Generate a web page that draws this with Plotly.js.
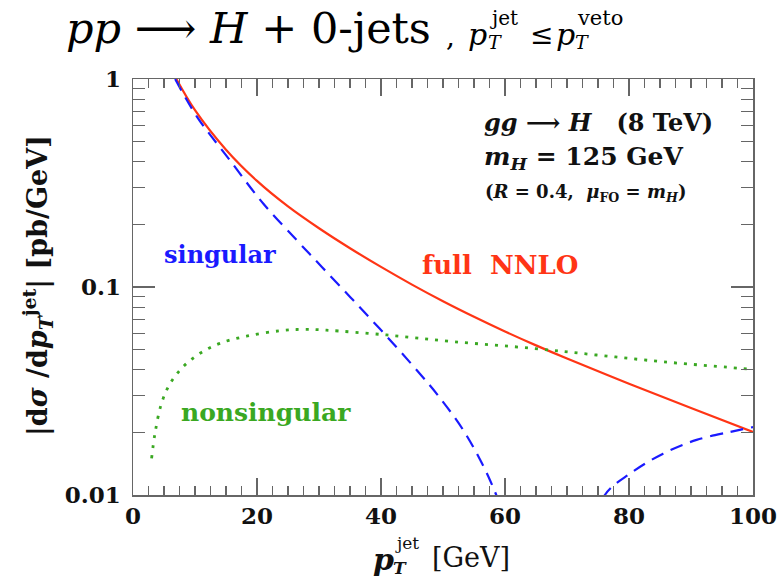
<!DOCTYPE html>
<html>
<head>
<meta charset="utf-8">
<script src="https://cdn.plot.ly/plotly-3.0.1.min.js"></script>
<style>html,body{margin:0;padding:0;background:#fff;}#chart{width:784px;height:583px;}</style>
</head>
<body>
<div id="chart"></div>
<script>
// Full NNLO (red solid)
var fullX = [7, 10, 15, 20, 25, 30, 35, 40, 45, 50, 55, 60, 65, 70, 80, 90, 100];
var fullY = [1.0, 0.708, 0.457, 0.3236, 0.244, 0.1916, 0.1536, 0.1249, 0.1027, 0.0854, 0.0719, 0.0611, 0.0524, 0.0453, 0.0343, 0.0262, 0.0201];

// Singular (blue dashed): positive branch, then |negative| branch
var singX1 = [6.8, 10.3, 15.6, 21.0, 26.4, 30.5, 35.5, 40.9, 46.3, 49.2, 53.5, 57.6, 60, 63, 66];
var singY1 = [1.0, 0.66, 0.408, 0.252, 0.168, 0.1245, 0.0865, 0.058, 0.0382, 0.0301, 0.020, 0.01175, 0.0076, 0.0037, 0.001];
var singX2 = [70, 73, 76.1, 80.2, 85.5, 90.9, 96.3, 100];
var singY2 = [0.002, 0.0055, 0.0100, 0.0127, 0.0158, 0.0184, 0.0201, 0.0212];

// Nonsingular (green dotted)
var nonsX = [3.0, 3.55, 4.6, 6.0, 8.1, 10.8, 14.0, 18.3, 23.7, 27.5, 31.2, 40.9, 51.7, 64.5, 74.8, 85.5, 100];
var nonsY = [0.015, 0.0198, 0.0276, 0.0344, 0.0414, 0.048, 0.0536, 0.058, 0.0616, 0.0626, 0.062, 0.0588, 0.0546, 0.0507, 0.0471, 0.0437, 0.0402];

var xTickVals = [0, 20, 40, 60, 80, 100];
var yTickVals = [0.01, 0.1, 1];
var yTickText = ['0.01', '0.1', '1'];

var RED = '#ff3515', BLUE = '#1a1aff', GREEN = '#3aa822';
var SERIF = 'DejaVu Serif, Liberation Serif, serif';
var NB = '\u00A0';

var yMinor = [];
[0.01, 0.1].forEach(function (d) { for (var k = 2; k <= 9; k++) yMinor.push(+(k * d).toPrecision(2)); });
var xMinor = [];
for (var v = 0; v <= 100; v += 2.5) if (v % 20 !== 0) xMinor.push(v);

var traces = [
  {x: fullX, y: fullY, mode: 'lines', line: {color: RED, width: 2.2, shape: 'spline', smoothing: 1}, hoverinfo: 'skip'},
  {x: singX1, y: singY1, mode: 'lines', line: {color: BLUE, width: 2.2, dash: '13px,8px', shape: 'spline', smoothing: 1}, hoverinfo: 'skip'},
  {x: singX2, y: singY2, mode: 'lines', line: {color: BLUE, width: 2.2, dash: '13px,8px', shape: 'spline', smoothing: 1}, hoverinfo: 'skip'},
  {x: nonsX, y: nonsY, mode: 'lines', line: {color: GREEN, width: 2.8, dash: '3px,7px', shape: 'spline', smoothing: 1}, hoverinfo: 'skip'}
];

var L = 133, R = 31, T = 79, B = 88, W = 784, H = 583;
function px(p) { return (p - L) / (W - L - R); }
function py(p) { return (H - B - p) / (H - T - B); }
function pa(x, y, text, size, opt) {
  var a = {xref: 'paper', yref: 'paper', x: px(x), y: py(y), xanchor: 'left', yanchor: 'middle', showarrow: false,
    text: text, font: {family: SERIF, size: size, color: '#000'}};
  return Object.assign(a, opt || {});
}

var annotations = [
  pa(64, 28, '<i>pp</i>' + NB + '⟶' + NB + '<i>H</i>' + NB + '+' + NB + '0-jets', 43),
  pa(444, 36, ',', 28),
  pa(466, 34, '<i>p</i>', 30),
  pa(486, 42, '<i>T</i>', 19),
  pa(488, 18, 'jet', 20),
  pa(528, 34, '≤', 28),
  pa(554, 34, '<i>p</i>', 30),
  pa(573, 42, '<i>T</i>', 19),
  pa(575, 18, 'veto', 21),
  {x: 14, y: -0.846, xanchor: 'center', yanchor: 'middle', showarrow: false, text: '<b>singular</b>', font: {family: SERIF, size: 24, color: BLUE}},
  {x: 21.5, y: -1.601, xanchor: 'center', yanchor: 'middle', showarrow: false, text: '<b>nonsingular</b>', font: {family: SERIF, size: 25, color: GREEN}},
  {x: 59.2, y: -0.894, xanchor: 'center', yanchor: 'middle', showarrow: false, text: '<b>full' + NB + NB + 'NNLO</b>', font: {family: SERIF, size: 26, color: RED}},
  {x: 56.3, y: -0.207, xanchor: 'left', yanchor: 'middle', showarrow: false, text: '<b><i>gg</i>' + NB + '⟶' + NB + '<i>H</i>' + NB + NB + NB + '(8' + NB + 'TeV)</b>', font: {family: SERIF, size: 24, color: '#111'}},
  {x: 56.3, y: -0.380, xanchor: 'left', yanchor: 'middle', showarrow: false, text: '<b><i>m</i><sub><i>H</i></sub>' + NB + '=' + NB + '125' + NB + 'GeV</b>', font: {family: SERIF, size: 25, color: '#111'}},
  {x: 56.4, y: -0.548, xanchor: 'left', yanchor: 'middle', showarrow: false, text: '<b>(<i>R</i>' + NB + '=' + NB + '0.4,' + NB + NB + '<i>μ</i><sub>FO</sub>' + NB + '=' + NB + '<i>m</i><sub><i>H</i></sub>)</b>', font: {family: SERIF, size: 18, color: '#111'}},
  pa(37, 286, '<b>|d<i>σ</i> /d<i>p</i><sub><i>T</i></sub><sup>jet</sup>|' + NB + '[pb/GeV]</b>', 27, {xanchor: 'center', textangle: -90, font: {family: SERIF, size: 27, color: '#111'}}),
  pa(371, 559, '<b><i>p</i></b>', 30, {font: {family: SERIF, size: 30, color: '#111'}}),
  pa(391, 568, '<b><i>T</i></b>', 17, {font: {family: SERIF, size: 17, color: '#111'}}),
  pa(393, 543, 'jet', 17, {font: {family: SERIF, size: 17, color: '#111'}}),
  pa(430, 557, '[GeV]', 27, {font: {family: SERIF, size: 27, color: '#111'}})
];

var axisCommon = {showgrid: false, zeroline: false, showline: true, linecolor: '#666', linewidth: 1.5, mirror: 'ticks',
  ticks: 'inside', tickcolor: '#666', tickwidth: 1.3, tickfont: {family: SERIF, size: 23, color: '#111', weight: 'bold'}};

var layout = {
  width: W, height: H,
  margin: {l: L, r: R, t: T, b: B},
  paper_bgcolor: '#fff', plot_bgcolor: '#fff',
  showlegend: false,
  xaxis: Object.assign({}, axisCommon, {range: [0, 100], tickmode: 'array', tickvals: xTickVals, ticklen: 17,
    ticklabelstandoff: 0,
    minor: {tickmode: 'array', tickvals: xMinor, ticklen: 9, ticks: 'inside', tickcolor: '#666', tickwidth: 1.2, showgrid: false}}),
  yaxis: Object.assign({}, axisCommon, {type: 'log', range: [-2, 0], tickmode: 'array', tickvals: yTickVals, ticktext: yTickText, ticklen: 22,
    ticklabelstandoff: 6,
    minor: {tickmode: 'array', tickvals: yMinor, ticklen: 12, ticks: 'inside', tickcolor: '#666', tickwidth: 1.2, showgrid: false}}),
  annotations: annotations
};

Plotly.newPlot('chart', traces, layout, {staticPlot: true, displayModeBar: false});
</script>
</body>
</html>
